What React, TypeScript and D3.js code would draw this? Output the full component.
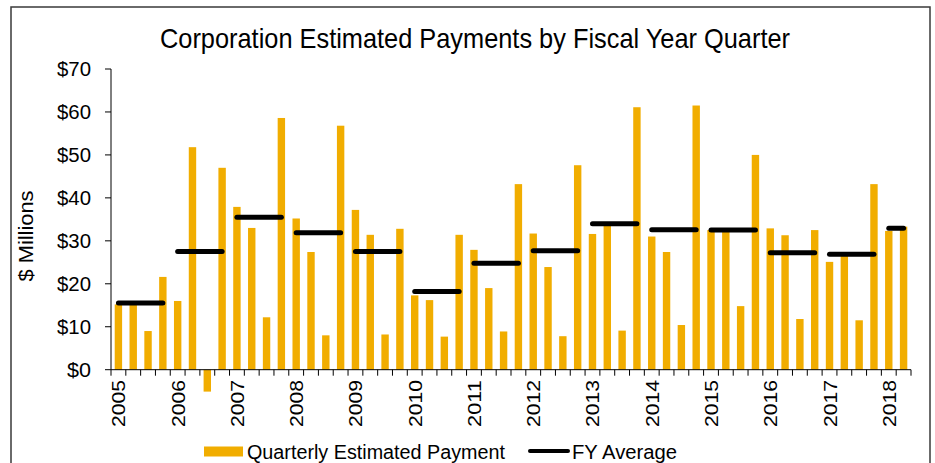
import * as d3 from 'd3'

// fiscal years shown on the axis
const years = ['2005', '2006', '2007', '2008', '2009', '2010', '2011', '2012', '2013', '2014', '2015', '2016', '2017', '2018']
// quarters reported per fiscal year (2018 is partial)
const quartersPerYear = [4, 4, 4, 4, 4, 4, 4, 4, 4, 4, 4, 4, 4, 2]

// quarterly estimated payments, $ millions
const quarterly = [
  15.2, 15.3, 9.0, 21.6,
  16.0, 51.8, -5.1, 47.0,
  37.9, 33.0, 12.2, 58.6,
  35.2, 27.4, 8.0, 56.8,
  37.2, 31.4, 8.2, 32.8,
  17.3, 16.2, 7.7, 31.4,
  27.9, 19.0, 8.9, 43.2,
  31.7, 23.9, 7.8, 47.6,
  31.6, 33.6, 9.1, 61.1,
  31.0, 27.4, 10.4, 61.5,
  32.5, 32.4, 14.8, 50.0,
  32.9, 31.3, 11.8, 32.5,
  25.1, 27.2, 11.5, 43.2,
  32.3, 33.3,
]

// fiscal-year average lines, $ millions
const fyAverage = [15.5, 27.5, 35.5, 31.9, 27.5, 18.2, 24.8, 27.7, 34.0, 32.6, 32.5, 27.2, 26.9, 32.9]

const yTicks = [0, 10, 20, 30, 40, 50, 60, 70]

const W = 935
const H = 463
const FONT = 'Liberation Sans, Arial, sans-serif'
const BAR = '#f1ad00'

// one category per quarter
const categories: string[] = []
years.forEach((y, i) => {
  for (let q = 1; q <= quartersPerYear[i]; q++) categories.push(`${y}Q${q}`)
})

export default function App() {
  const plotLeft = 111
  const plotRight = 911
  const plotTop = 69
  const plotBottom = 369.7

  const x = d3
    .scaleBand<string>()
    .domain(categories)
    .range([plotLeft, plotRight])
    .paddingInner(0.5)
    .paddingOuter(0.25)

  const y = d3.scaleLinear().domain([0, 70]).range([plotBottom, plotTop])

  const step = x.step()
  const center = (c: string) => (x(c) as number) + x.bandwidth() / 2

  // start index of each fiscal year in the category list
  const yearStart: number[] = []
  let acc = 0
  quartersPerYear.forEach(n => {
    yearStart.push(acc)
    acc += n
  })

  const tickXs = d3.range(categories.length + 1).map(i => plotLeft + i * step)

  return (
    <svg
      width={W}
      height={H}
      style={{ position: 'absolute', left: 0, top: 0, background: '#fff' }}
      fontFamily={FONT}
    >
      {/* chart frame */}
      <rect x={11} y={7} width={919} height={480} fill="#fff" stroke="#3a3a3a" strokeWidth={1.5} />

      {/* title */}
      <text x={475} y={48} textAnchor="middle" fontSize={28} fill="#000" textLength={630} lengthAdjust="spacingAndGlyphs">
        Corporation Estimated Payments by Fiscal Year Quarter
      </text>

      {/* bars */}
      {categories.map((c, i) => {
        const v = quarterly[i]
        return (
          <rect
            key={c}
            x={x(c)}
            y={y(Math.max(0, v))}
            width={x.bandwidth()}
            height={Math.abs(y(v) - y(0))}
            fill={BAR}
          />
        )
      })}

      {/* FY average lines */}
      {years.map((yr, i) => {
        const first = categories[yearStart[i]]
        const last = categories[yearStart[i] + quartersPerYear[i] - 1]
        return (
          <line
            key={yr}
            x1={center(first)}
            x2={center(last)}
            y1={y(fyAverage[i])}
            y2={y(fyAverage[i])}
            stroke="#000"
            strokeWidth={5}
            strokeLinecap="round"
          />
        )
      })}

      {/* y axis */}
      <line x1={plotLeft} x2={plotLeft} y1={plotTop} y2={plotBottom} stroke="#000" strokeWidth={1} />
      {yTicks.map(t => (
        <g key={t}>
          <line x1={plotLeft - 6} x2={plotLeft} y1={y(t)} y2={y(t)} stroke="#000" strokeWidth={1} />
          <text x={91} y={y(t)} dy="0.36em" textAnchor="end" fontSize={20} fill="#000" textLength={t === 0 ? 24 : 34} lengthAdjust="spacingAndGlyphs">
            {`$${t}`}
          </text>
        </g>
      ))}
      <text
        transform={`translate(33,236) rotate(-90)`}
        textAnchor="middle"
        fontSize={20}
        fill="#000"
        textLength={91}
        lengthAdjust="spacingAndGlyphs"
      >
        $ Millions
      </text>

      {/* x axis */}
      <line x1={plotLeft} x2={plotRight} y1={plotBottom} y2={plotBottom} stroke="#000" strokeWidth={1} />
      {tickXs.map((tx, i) => (
        <line key={i} x1={tx} x2={tx} y1={plotBottom} y2={plotBottom + 6} stroke="#000" strokeWidth={1} />
      ))}
      {years.map((yr, i) => (
        <text
          key={yr}
          transform={`translate(${center(categories[yearStart[i]]) + 7},380) rotate(-90)`}
          textAnchor="end"
          fontSize={19}
          fill="#000"
          textLength={47}
          lengthAdjust="spacingAndGlyphs"
        >
          {yr}
        </text>
      ))}

      {/* legend */}
      <rect x={204} y={446.5} width={39} height={10} fill={BAR} />
      <text x={247} y={451.5} dy="0.36em" fontSize={20} fill="#000" textLength={258} lengthAdjust="spacingAndGlyphs">
        Quarterly Estimated Payment
      </text>
      <line x1={530} x2={568} y1={451} y2={451} stroke="#000" strokeWidth={4} strokeLinecap="round" />
      <text x={572} y={451.5} dy="0.36em" fontSize={20} fill="#000" textLength={105} lengthAdjust="spacingAndGlyphs">
        FY Average
      </text>
    </svg>
  )
}
